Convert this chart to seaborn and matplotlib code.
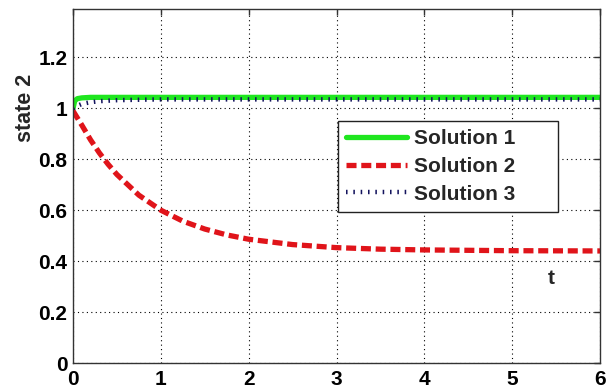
import matplotlib
matplotlib.use("Agg")
import matplotlib.pyplot as plt
import pandas as pd
import seaborn as sns

# values
t1 = [0, 0.02, 0.05, 0.1, 0.2, 0.5, 1, 2, 3, 4, 5, 6]
sol1 = [1.0, 1.03, 1.038, 1.041, 1.043, 1.043, 1.043, 1.043, 1.043, 1.043, 1.043, 1.043]

t2 = [0, 0.1, 0.2, 0.3, 0.4, 0.5, 0.75, 1, 1.25, 1.5, 1.75, 2, 2.5, 3, 3.5, 4, 5, 6]
sol2 = [0.99, 0.934, 0.876, 0.825, 0.78, 0.74, 0.659, 0.6, 0.557, 0.526, 0.503,
        0.486, 0.465, 0.453, 0.447, 0.444, 0.441, 0.44]

t3 = [0, 0.05, 0.1, 0.2, 0.3, 0.5, 0.8, 1, 2, 3, 4, 5, 6]
sol3 = [1.0, 1.01, 1.017, 1.024, 1.028, 1.032, 1.034, 1.035, 1.035, 1.035, 1.035, 1.035, 1.035]

labels = ["Solution 1", "Solution 2", "Solution 3"]
x_ticks = [0, 1, 2, 3, 4, 5, 6]
y_ticks = [0, 0.2, 0.4, 0.6, 0.8, 1.0, 1.2]
y_tick_labels = ["0", "0.2", "0.4", "0.6", "0.8", "1", "1.2"]

sns.set_style("white")
plt.rcParams["font.family"] = ["Liberation Sans", "DejaVu Sans"]
plt.rcParams["font.weight"] = "bold"

fig = plt.figure(figsize=(6.1, 3.89), dpi=100)
ax = fig.add_axes([0.1197, 0.0668, 0.8639, 0.9101])

df1 = pd.DataFrame({"t": t1, "y": sol1})
df2 = pd.DataFrame({"t": t2, "y": sol2})
df3 = pd.DataFrame({"t": t3, "y": sol3})

# pad labels so the legend box gets MATLAB-like room on the right
pad = "      "
sns.lineplot(data=df1, x="t", y="y", ax=ax, color="#1fe61f", lw=3.8, label=labels[0] + pad)
sns.lineplot(data=df2, x="t", y="y", ax=ax, color="#e0141a", lw=3.8, label=labels[1] + pad)
sns.lineplot(data=df3, x="t", y="y", ax=ax, color="#14145e", lw=3.2, label=labels[2] + pad)
ax.lines[1].set_dashes((1.9, 0.9))
ax.lines[2].set_dashes((0.35, 1.3))

ax.set_xlim(0, 6)
ax.set_ylim(0, 1.39)
ax.set_xticks(x_ticks)
ax.set_xticklabels([str(v) for v in x_ticks])
ax.set_yticks(y_ticks)
ax.set_yticklabels(y_tick_labels)
ax.tick_params(direction="in", length=4, width=1, top=True, right=True,
               labelsize=15, pad=4, colors="#333333", labelcolor="black")
ax.tick_params(axis="x", pad=5)

ax.grid(True, linestyle=(0, (1, 3)), color="black", lw=0.8)
for s in ax.spines.values():
    s.set_color("#333333")
    s.set_linewidth(1.0)

ax.set_xlabel("")
ax.set_ylabel("state 2", fontsize=15.5, fontweight="bold")
ax.yaxis.set_label_coords(-0.07, 0.72)
ax.text(5.45, 0.33, "t", fontsize=15, fontweight="bold", ha="center", va="center")

leg = ax.legend(loc="upper left", bbox_to_anchor=(0.503, 0.684), borderaxespad=0,
                fontsize=15, handlelength=2.9, handletextpad=0.35, labelspacing=0.42,
                borderpad=0.4, fancybox=False, framealpha=1, edgecolor="#222222")
leg.get_frame().set_linewidth(1.0)
for txt in leg.get_texts():
    txt.set_fontweight("bold")

fig.savefig("out.png", dpi=100)
